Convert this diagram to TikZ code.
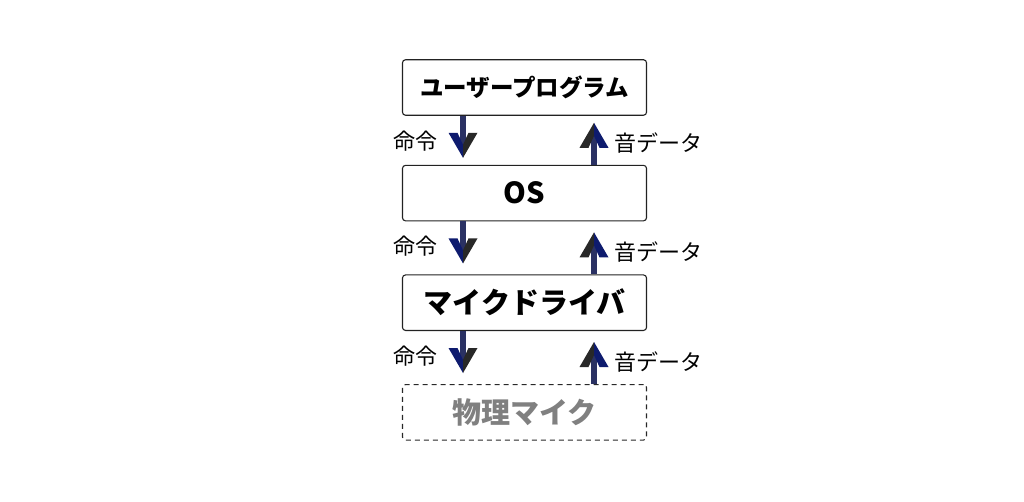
\documentclass[tikz,border=0pt]{standalone}
\usepackage{fontspec}
\setmainfont{Noto Sans CJK JP}
\usetikzlibrary{positioning, calc}
\definecolor{shaftcol}{HTML}{2A3163}
\definecolor{navyhead}{HTML}{0E1B6E}
\definecolor{darkhead}{HTML}{282828}
\definecolor{framecol}{HTML}{222222}
\definecolor{ghost}{HTML}{808080}
\tikzstyle{layer} = [draw=framecol,line width=1.1pt,rounded corners=3pt,minimum width=244pt,minimum height=55.5pt,inner sep=0pt,font=\bfseries\fontsize{29}{34}\selectfont]
\tikzstyle{shaft} = [draw=shaftcol,line width=5.5pt]
\tikzstyle{tag} = [inner sep=0pt,font=\fontsize{22}{26}\selectfont]

\begin{document}
\begin{tikzpicture}[x=1pt,y=-1pt]
		\useasboundingbox (0,0) rectangle (1024,502);
		\node [layer,font=\bfseries\fontsize{23.5}{28}\selectfont] (user) at (524.5,87.5) {ユーザープログラム};
		\node [layer,below=49pt of user] (os) {OS};
		\node [layer,below=53pt of os] (drv) {マイクドライバ};
		\node [layer,below=53pt of drv,dashed,dash pattern=on 5pt off 4pt,draw=darkhead,text=ghost] (mic) {物理マイク};
		
		\foreach \a/\b in {user/os, os/drv, drv/mic}{
			% down: command
			\coordinate (dn-\a) at ($(\a.south)+(-61.5,42)$);
			\draw[shaft] ($(\a.south)+(-61.5,0)$) -- ($(dn-\a)+(0,-9)$);
			\fill[navyhead] (dn-\a) -- ++(-14.5,-25) -- ++(9,0) -- ++(5.5,12) -- cycle;
			\fill[darkhead] (dn-\a) -- ++(14.5,-25) -- ++(-9,0) -- ++(-5.5,12) -- cycle;
			\node [tag,anchor=east] (cmd-\a) at ($(\a.south)+(-87,25)$) {命令};
			% up: sound data
			\coordinate (up-\b) at ($(\b.north)+(69.5,-42)$);
			\draw[shaft] ($(\b.north)+(69.5,0)$) -- ($(up-\b)+(0,9)$);
			\fill[darkhead] (up-\b) -- ++(-14.5,25) -- ++(9,0) -- ++(5.5,-12) -- cycle;
			\fill[navyhead] (up-\b) -- ++(14.5,25) -- ++(-9,0) -- ++(-5.5,-12) -- cycle;
			\node [tag,anchor=west] (snd-\b) at ($(\b.north)+(89.5,-22)$) {音データ};
		}
		\end{tikzpicture}
\end{document}
